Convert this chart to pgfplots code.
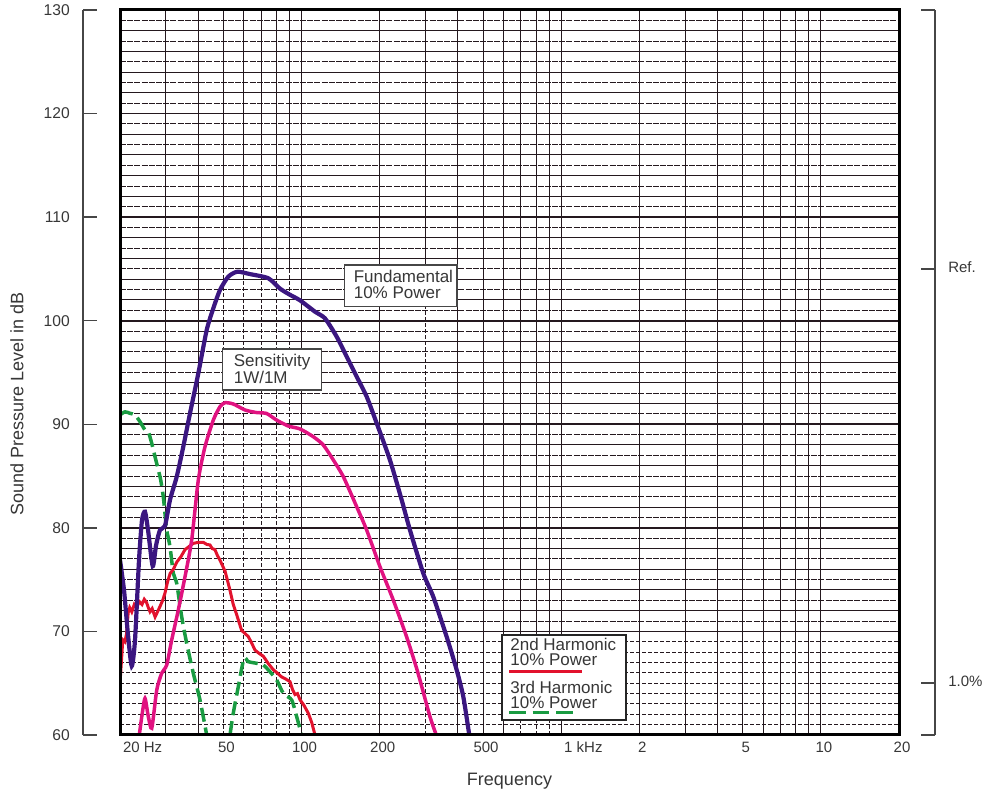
\documentclass[border=0pt]{standalone}
\usepackage{fontspec}
\setmainfont{Liberation Sans}
\usepackage{pgfplots}
\pgfplotsset{compat=1.18}

\definecolor{fund}{RGB}{59,22,128}
\definecolor{sens}{RGB}{224,18,128}
\definecolor{second}{RGB}{226,18,45}
\definecolor{third}{RGB}{25,155,65}
\definecolor{gridc}{RGB}{36,24,30}
\definecolor{txt}{RGB}{55,55,55}
\definecolor{scalec}{RGB}{70,70,70}

\tikzset{
  hline/.style={gridc, line width=0.5pt},
  hdash/.style={gridc, line width=0.5pt, dash pattern=on 3pt off 0.6pt},
  ldash/.style={gridc, line width=0.5pt, dash pattern=on 2pt off 1pt},
}

\begin{document}
\fontsize{8.5}{9}\selectfont
\begin{tikzpicture}
\useasboundingbox (0,0) rectangle (492.5pt,398pt);

% left dB scale
\begin{axis}[
  at={(41.5pt,30.5pt)}, anchor=south west,
  scale only axis, width=10pt, height=362.5pt,
  xmin=0, xmax=1, ymin=60, ymax=130,
  axis x line=none, axis y line=left,
  y axis line style={-, line width=0.75pt, color=scalec},
  ytick={60,70,...,130},
  tick align=inside, major tick length=7pt,
  ytick style={line width=0.75pt, color=scalec},
  yticklabel style={font=\fontsize{7.8}{8}\selectfont, text=txt, xshift=-3.6pt},
  /pgf/number format/assume math mode=true,
]
\end{axis}

% right bracket (Ref. / 1.0%)
\begin{axis}[
  at={(467.5pt,30.5pt)}, anchor=south east,
  scale only axis, width=10pt, height=362.5pt,
  xmin=0, xmax=1, ymin=60, ymax=130,
  axis x line=none, axis y line=right,
  y axis line style={-, line width=0.75pt, color=scalec},
  ytick={60,65,105,130},
  yticklabels={{},{1.0\%},{Ref.},{}},
  tick align=inside, major tick length=7pt,
  ytick style={line width=0.75pt, color=scalec},
  yticklabel style={font=\fontsize{7.5}{8}\selectfont, text=txt, xshift=3.6pt, yshift=1pt},
]
\end{axis}

% main chart
\begin{axis}[
  at={(60pt,30.5pt)}, anchor=south west,
  scale only axis, width=389.5pt, height=362.5pt,
  xmode=log, xmin=20, xmax=20000, ymin=60, ymax=130,
  axis on top,
  axis line style={line width=1.5pt, black},
  xtick={20,50,100,200,500,1000,2000,5000,10000,20000},
  xticklabels={\rlap{20 Hz},50,100,200,500,\rlap{1 kHz},2,5,10,20},
  ytick=\empty,
  tick style={draw=none},
  xticklabel style={font=\fontsize{7.5}{8}\selectfont, text=txt, xshift=1.5pt, yshift=-0.5pt},
  xlabel={Frequency},
  ylabel={Sound Pressure Level in dB},
  label style={font=\fontsize{9}{10}\selectfont, text=txt},
  xlabel style={at={(axis description cs:0.5,-0.0634)}, anchor=center},
  ylabel style={at={(axis description cs:-0.1322,0.4566)}, anchor=center},
]
% horizontal grid, 1 dB
\pgfplotsinvokeforeach{72,74,76,78,82,84,86,88,92,94,96,98,102,104,106,108,112,114,116,118,122,124,126,128}{
  \draw[hline] (axis cs:20,#1) -- (axis cs:20000,#1);}
\pgfplotsinvokeforeach{71,73,...,129}{
  \draw[hdash] (axis cs:20,#1) -- (axis cs:20000,#1);}
\pgfplotsinvokeforeach{61,...,69}{
  \draw[ldash] (axis cs:20,#1) -- (axis cs:20000,#1);}
\pgfplotsinvokeforeach{70,80,...,120}{
  \draw[gridc, line width=0.85pt] (axis cs:20,#1) -- (axis cs:20000,#1);}
% vertical grid
\pgfplotsinvokeforeach{30,40,100,200,400,500,600,1000,2000,3000,4000,5000,6000,7000,8000,9000,10000}{
  \draw[hline] (axis cs:#1,60) -- (axis cs:#1,130);}
\pgfplotsinvokeforeach{50,60,70,80,90,300}{
  \draw[ldash] (axis cs:#1,60) -- (axis cs:#1,105);
  \draw[hline] (axis cs:#1,105) -- (axis cs:#1,130);}
\pgfplotsinvokeforeach{700,800,900}{
  \draw[ldash] (axis cs:#1,60) -- (axis cs:#1,67);
  \draw[hline] (axis cs:#1,67) -- (axis cs:#1,130);}

% 3rd harmonic, 10% power
\addplot[third, line width=1.75pt, dash pattern=on 7pt off 3pt, smooth, tension=0.4] coordinates {
  (20,90.9) (20.9,91.2) (21.85,91.06) (22.85,90.9) (23.88,90.25) (24.96,89.45)
  (25.7,89.28) (26.5,88.16) (27.28,86.87) (28.09,85.59) (28.69,84.62) (29.36,83.0)
  (29.8,81.4) (30.26,79.79) (31.16,78.18) (32.09,75.61) (33.07,74.64) (34.56,71.42)
  (36.13,68.85) (38.31,65.96) (40.65,63.38) (43.14,60)
};
\addplot[third, line width=1.75pt, dash pattern=on 7pt off 3pt, smooth, tension=0.4] coordinates {
  (53.04,60) (54.6,62.1) (57.09,64.66) (60.04,67.4) (62.39,67.08) (67.22,66.92)
  (71.27,66.76) (75.6,66.11) (80.25,65.31) (85.1,64.02) (91.66,63.38) (95.8,61.77)
  (100.1,60)
};
% 2nd harmonic, 10% power
\addplot[second, line width=1.5pt] coordinates {
  (20,65.0) (20.3,67.5) (20.5,69.2) (20.9,69.0) (21.2,69.8) (21.5,71.8) (21.8,72.3)
  (22.2,71.9) (22.7,72.6) (23.2,72.3) (23.7,72.9) (24.3,72.6) (24.8,73.1) (25.3,72.8)
  (25.8,72.2) (26.1,71.9) (26.6,72.2) (27.3,71.4) (27.9,71.9) (28.5,72.4) (29.2,73.0)
  (29.8,73.7) (30.5,74.8) (31.2,75.6) (32.1,76.0) (33.1,76.7) (34.3,77.2) (35.6,77.9)
  (36.9,78.2) (38.3,78.5) (40.0,78.6) (41.9,78.6) (43.2,78.4) (44.4,78.35) (45.3,78.0)
  (46.4,77.9) (47.5,77.3) (48.5,76.9) (50.8,75.8) (53.0,74.0) (54.6,72.6) (56.3,71.6)
  (58.8,70.1) (62.4,69.5) (64.5,68.8) (66.2,68.2) (68.5,67.9) (71.3,67.6) (74.5,66.9)
  (77.9,66.3) (80.5,66.0) (83.9,65.6) (87.0,65.4) (90.3,65.15) (92.3,64.4) (94.4,63.9)
  (96.5,64.0) (98.7,63.4) (102,62.9) (106.2,62.1) (109.5,61.2) (112.7,60.0)
};
% sensitivity 1W/1M
\addplot[sens, line width=1.75pt, smooth, tension=0.4] coordinates {
  (23.73,60) (24.31,61.93) (24.96,63.54) (25.64,61.93) (26.5,60.65) (27.7,64.34)
  (28.94,65.96) (30.26,66.76) (31.63,69.17) (33.54,72.07) (35.59,75.28) (37.77,78.83)
  (40.05,84.62) (42.5,87.84) (45.75,90.41) (48.54,91.7) (50.75,92.08) (54.6,91.96)
  (60.6,91.38) (66.8,91.14) (73.4,91.04) (80.25,90.4) (88.94,89.83) (98.65,89.55)
  (111.0,88.8) (121.3,88.0) (132.6,86.55) (144.9,84.94) (163.1,82.04) (178.2,79.79)
  (200.5,76.25) (225.6,73.03) (254.1,69.46) (280.9,65.99) (312.4,61.77) (330.4,60)
};
% fundamental, 10% power
\addplot[fund, line width=2.1pt, smooth, tension=0.4] coordinates {
  (20,76.9) (20.72,74.0) (21.47,69.66) (22.19,66.66) (22.85,69.2) (23.67,76.9)
  (24.31,80.76) (24.96,81.56) (25.64,79.8) (26.73,76.3) (27.53,78.3) (28.51,79.8)
  (29.81,80.2) (31.16,82.7) (33.07,84.94) (35.06,87.84) (37.21,91.06) (40.05,94.92)
  (43.14,99.1) (45.75,101.2) (48.54,102.97) (52.24,104.25) (56.57,104.73) (63.33,104.5)
  (74.5,104.1) (82.6,103.1) (90.3,102.5) (98.65,101.97) (112.7,100.87) (123.1,100.23)
  (136.6,98.46) (149.3,96.53) (163.1,94.6) (178.2,92.67) (194.8,90.1) (219.1,86.55)
  (243.1,82.69) (261.6,79.79) (294.4,75.61) (321.7,73.35) (362.2,69.49) (395.9,66.28)
  (419.8,63.7) (442.6,60.0)
};
\end{axis}

% annotation boxes
\draw[scalec, line width=0.75pt, fill=white] (172.2pt,244.7pt) rectangle (228.5pt,265.5pt);
\node[anchor=base west, inner sep=0pt, text=txt] at (176.7pt,256.8pt) {Fundamental};
\node[anchor=base west, inner sep=0pt, text=txt] at (176.7pt,248.5pt) {10\% Power};

\draw[scalec, line width=0.75pt, fill=white] (111.3pt,203pt) rectangle (160.8pt,223.5pt);
\node[anchor=base west, inner sep=0pt, text=txt] at (116.7pt,214.7pt) {Sensitivity};
\node[anchor=base west, inner sep=0pt, text=txt] at (116.7pt,206.3pt) {1W/1M};

% legend for harmonics
\draw[black!85, line width=0.8pt, fill=white] (251pt,38pt) rectangle (313pt,80.5pt);
\node[anchor=base west, inner sep=0pt, text=txt] at (255pt,72.6pt) {2nd Harmonic};
\node[anchor=base west, inner sep=0pt, text=txt] at (255pt,65.2pt) {10\% Power};
\draw[second, line width=1.5pt] (254.7pt,62.2pt) -- (291pt,62.2pt);
\node[anchor=base west, inner sep=0pt, text=txt] at (255pt,51.3pt) {3rd Harmonic};
\node[anchor=base west, inner sep=0pt, text=txt] at (255pt,43.8pt) {10\% Power};
\draw[third, line width=1.6pt, dash pattern=on 8.3pt off 3.5pt] (254.5pt,41.6pt) -- (287pt,41.6pt);
\end{tikzpicture}
\end{document}
